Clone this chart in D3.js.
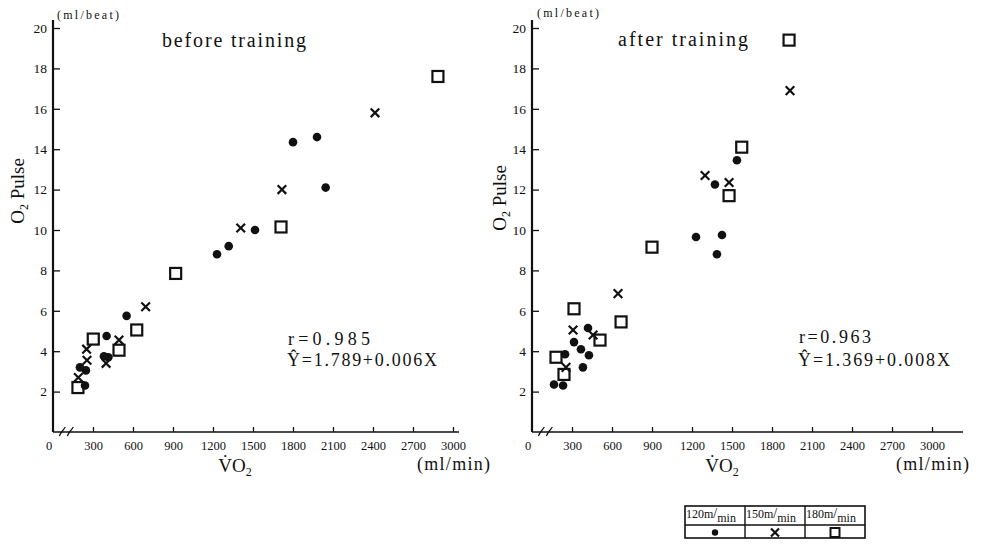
<!DOCTYPE html>
<html>
<head>
<meta charset="utf-8">
<script src="https://cdn.jsdelivr.net/npm/d3@7"></script>
<style>
  body { margin: 0; background: #fff; }
  svg text { font-family: "Liberation Serif", "Times New Roman", "DejaVu Serif", serif !important; fill: #111; }
</style>
</head>
<body>
<div id="o2-pulse"></div>
<script>
'use strict';

// tick values
var xTicks = [300, 600, 900, 1200, 1500, 1800, 2100, 2400, 2700, 3000];
var yTicks = [2, 4, 6, 8, 10, 12, 14, 16, 18, 20];
var speeds = ['120', '150', '180'];

// [VO2 ml/min, O2 pulse ml/beat]
var beforeDot = [[1800, 14.35], [1980, 14.6], [2045, 12.1], [1515, 10.0], [1318, 9.2], [1230, 8.8],
    [552, 5.75], [402, 4.75], [382, 3.75], [415, 3.7], [202, 3.2], [247, 3.05], [240, 2.3]];
var beforeCross = [[2415, 15.8], [1717, 12.0], [1408, 10.1], [695, 6.2], [495, 4.55],
    [252, 4.1], [255, 3.55], [398, 3.4], [190, 2.7]];
var beforeSquare = [[2887, 17.6], [1710, 10.15], [920, 7.85], [628, 5.05], [302, 4.6], [495, 4.05], [187, 2.2]];

var afterDot = [[1537, 13.45], [1372, 12.25], [1230, 9.65], [1425, 9.75], [1387, 8.8], [420, 5.15],
    [315, 4.45], [367, 4.1], [427, 3.8], [248, 3.85], [382, 3.2], [165, 2.35], [233, 2.3]];
var afterCross = [[1935, 16.9], [1298, 12.7], [1478, 12.35], [645, 6.85], [308, 5.05], [458, 4.8], [255, 3.2]];
var afterSquare = [[1928, 19.4], [1573, 14.1], [1478, 11.7], [900, 9.15], [315, 6.1], [668, 5.45],
    [510, 4.55], [180, 3.7], [240, 2.85]];

var moduleO2Pulse = (function() {

    var width = 982,
        height = 547;

    var serif = '"Liberation Serif", "Times New Roman", "DejaVu Serif", serif';

    var svg = d3.select('#o2-pulse').append('svg')
        .attr('width', width)
        .attr('height', height)
        .attr('font-family', serif);

    var panels = [
        {left: 53, axisEnd: 459, title: 'before training', titleX: 162, titleLen: 144, titleY: 47,
         r: 'r=0.985', reg: 'Ŷ=1.789+0.006X', textX: 287, rLen: 82, regLen: 150, rY: 345, regY: 366,
         unitX: 57, unitY: 19, pulseX: 17, pulseY: 191, vo2X: 235, minX: 417,
         dots: beforeDot, crosses: beforeCross, squares: beforeSquare},
        {left: 532, axisEnd: 963, title: 'after training', titleX: 618, titleLen: 130, titleY: 46,
         r: 'r=0.963', reg: 'Ŷ=1.369+0.008X', textX: 798, rLen: 72, regLen: 152, rY: 343, regY: 366,
         unitX: 537, unitY: 17, pulseX: 499, pulseY: 198, vo2X: 722, minX: 896,
         dots: afterDot, crosses: afterCross, squares: afterSquare}
    ];

    var y = d3.scaleLinear().domain([0, 20]).range([432, 28]);

    function drawCross(sel, s) {
        sel.append('path')
            .attr('d', 'M' + (-s) + ',' + (-s) + 'L' + s + ',' + s + 'M' + (-s) + ',' + s + 'L' + s + ',' + (-s))
            .attr('stroke', '#111')
            .attr('stroke-width', 2.2)
            .attr('fill', 'none');
    }

    function styleAxis(a, size) {
        a.select('.domain').remove();
        a.attr('font-family', serif);
        a.selectAll('line').attr('stroke', '#111').attr('stroke-width', 1.3);
        a.selectAll('text').attr('font-size', size).attr('fill', '#111');
    }

    function drawPanel(p) {
        var x = d3.scaleLinear().domain([0, 3000]).range([p.left, p.left + 400]);
        var g = svg.append('g');

        // y axis, ticks point inward
        g.append('g')
            .attr('transform', 'translate(' + p.left + ',0)')
            .call(d3.axisLeft(y).tickValues(yTicks).tickSize(-7).tickPadding(6))
            .call(function(a) { styleAxis(a, 13.5); });
        g.append('line')
            .attr('x1', p.left).attr('x2', p.left)
            .attr('y1', 20).attr('y2', y(0))
            .attr('stroke', '#111').attr('stroke-width', 2.2);

        // x axis
        var xa = g.append('g')
            .attr('transform', 'translate(0,' + y(0) + ')')
            .call(d3.axisBottom(x).tickValues(xTicks).tickFormat(d3.format('d')).tickSize(-5).tickPadding(9))
            .call(function(a) { styleAxis(a, 12.5); });
        xa.append('text')
            .attr('x', p.left - 4).attr('y', 9).attr('dy', '0.71em')
            .attr('text-anchor', 'middle').attr('font-size', 12.5).attr('fill', '#111')
            .text('0');
        g.append('line')
            .attr('x1', p.left).attr('x2', p.axisEnd)
            .attr('y1', y(0)).attr('y2', y(0))
            .attr('stroke', '#111').attr('stroke-width', 1.6);

        // axis break
        [70, 130].forEach(function(v) {
            var bx = x(v), by = y(0);
            g.append('path')
                .attr('d', 'M' + (bx - 3) + ',' + (by + 4) + 'Q' + (bx - 1) + ',' + by + ' ' + bx + ',' + (by - 1) +
                    'Q' + (bx + 1) + ',' + (by - 2) + ' ' + (bx + 3) + ',' + (by - 5))
                .attr('stroke', '#111').attr('stroke-width', 1.3).attr('fill', 'none');
        });

        // labels
        g.append('text').attr('x', p.unitX).attr('y', p.unitY).attr('font-size', 12)
            .attr('textLength', 62).attr('lengthAdjust', 'spacing').text('(ml/beat)');
        g.append('text')
            .attr('x', p.titleX).attr('y', p.titleY).attr('font-size', 20)
            .attr('textLength', p.titleLen).attr('lengthAdjust', 'spacing')
            .text(p.title);
        var pulse = g.append('text')
            .attr('transform', 'translate(' + p.pulseX + ',' + p.pulseY + ') rotate(-90)')
            .attr('text-anchor', 'middle').attr('dy', '0.35em').attr('font-size', 19);
        pulse.append('tspan').text('O');
        pulse.append('tspan').attr('font-size', 12).attr('dy', 4).text('2');
        pulse.append('tspan').attr('dy', -4).text(' Pulse');

        var vo2 = g.append('text')
            .attr('x', p.vo2X).attr('y', 472).attr('text-anchor', 'middle').attr('font-size', 19);
        vo2.append('tspan').text('V\u0307O');
        vo2.append('tspan').attr('font-size', 12).attr('dy', 4).text('2');
        g.append('text').attr('x', p.minX).attr('y', 470).attr('font-size', 18)
            .attr('textLength', 73).attr('lengthAdjust', 'spacing').text('(ml/min)');

        g.append('text').attr('x', p.textX + 1).attr('y', p.rY).attr('font-size', 18)
            .attr('textLength', p.rLen).attr('lengthAdjust', 'spacing').text(p.r);
        g.append('text').attr('x', p.textX).attr('y', p.regY).attr('font-size', 18)
            .attr('textLength', p.regLen).attr('lengthAdjust', 'spacing').text(p.reg);

        // points
        g.selectAll('circle.pt')
            .data(p.dots)
            .enter()
            .append('circle')
            .attr('class', 'pt')
            .attr('cx', function(d) { return x(d[0]); })
            .attr('cy', function(d) { return y(d[1]); })
            .attr('r', 4.3)
            .attr('fill', '#111');

        g.selectAll('g.cross')
            .data(p.crosses)
            .enter()
            .append('g')
            .attr('class', 'cross')
            .attr('transform', function(d) { return 'translate(' + x(d[0]) + ',' + y(d[1]) + ')'; })
            .each(function() { drawCross(d3.select(this), 4.3); });

        g.selectAll('rect.sq')
            .data(p.squares)
            .enter()
            .append('rect')
            .attr('class', 'sq')
            .attr('x', function(d) { return x(d[0]) - 5.5; })
            .attr('y', function(d) { return y(d[1]) - 5.5; })
            .attr('width', 11)
            .attr('height', 11)
            .attr('fill', 'none')
            .attr('stroke', '#111')
            .attr('stroke-width', 2.2);
    }

    function drawLegend() {
        var lx = 685, ly = 506, cw = 60, h1 = 19, h2 = 13;
        var g = svg.append('g');
        g.append('rect')
            .attr('x', lx).attr('y', ly).attr('width', cw * 3).attr('height', h1 + h2)
            .attr('fill', 'none').attr('stroke', '#111').attr('stroke-width', 1.6);
        g.append('line').attr('x1', lx).attr('x2', lx + cw * 3).attr('y1', ly + h1).attr('y2', ly + h1)
            .attr('stroke', '#111').attr('stroke-width', 1.4);
        [1, 2].forEach(function(i) {
            g.append('line').attr('x1', lx + cw * i).attr('x2', lx + cw * i).attr('y1', ly).attr('y2', ly + h1 + h2)
                .attr('stroke', '#111').attr('stroke-width', 1.4);
        });
        speeds.forEach(function(s, i) {
            var t = g.append('text').attr('x', lx + cw * i + 1).attr('y', ly + 12).attr('font-size', 12);
            t.append('tspan').text(s + 'm');
            t.append('tspan').attr('font-size', 14).text('/');
            t.append('tspan').attr('dy', 4).text('min');
            var cx = lx + cw * i + cw / 2, cy = ly + h1 + h2 / 2 + 1;
            if (i === 0) {
                g.append('circle').attr('cx', cx).attr('cy', cy).attr('r', 3.2).attr('fill', '#111');
            } else if (i === 1) {
                drawCross(g.append('g').attr('transform', 'translate(' + cx + ',' + cy + ')'), 4);
            } else {
                g.append('rect').attr('x', cx - 4.5).attr('y', cy - 4.5).attr('width', 9).attr('height', 9)
                    .attr('fill', 'none').attr('stroke', '#111').attr('stroke-width', 2);
            }
        });
    }

    var init = function() {
        panels.forEach(drawPanel);
        drawLegend();
    };

    return {
        init: init
    };
})();

moduleO2Pulse.init();
</script>
</body>
</html>
